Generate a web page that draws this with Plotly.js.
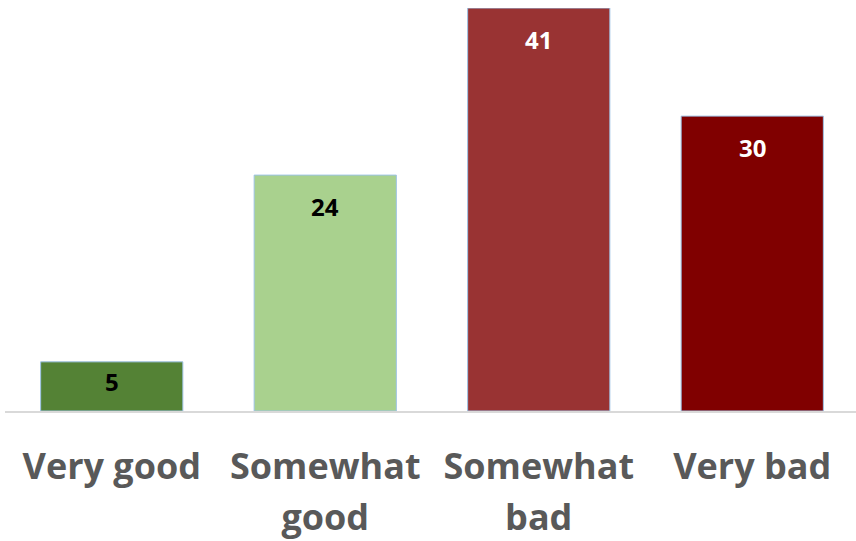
<!DOCTYPE html>
<html>
<head>
<meta charset="utf-8">
<script src="https://cdn.plot.ly/plotly-3.0.1.min.js"></script>
<style>html,body{margin:0;padding:0;background:#fff;overflow:hidden;}#chart{width:859px;height:541px;}</style>
</head>
<body>
<div id="chart"></div>
<script>
// Data
var categories = ["Very good", "Somewhat good", "Somewhat bad", "Very bad"];
var labelLine1 = ["Very good", "Somewhat", "Somewhat", "Very bad"];
var labelLine2 = ["", "good", "bad", ""];
var values = [5, 24, 41, 30];

// Styles
var barColors = ["#548235", "#A9D18E", "#993333", "#800000"];
var textColors = ["#000000", "#000000", "#ffffff", "#ffffff"];
var labelShift = [-20, -31, -31, -31];

var trace = {
  type: "bar",
  x: categories,
  y: values,
  marker: {color: barColors, line: {color: "#9DC3E6", width: 1}},
  hoverinfo: "none",
  xaxis: "x",
  yaxis: "y"
};
var dummy = {
  type: "bar", x: categories, y: values.map(function(){return null;}),
  xaxis: "x2", yaxis: "y", showlegend: false, hoverinfo: "none"
};

var annotations = categories.map(function(c, i){
  return {
    x: c, y: values[i], xref: "x", yref: "y",
    text: "<b>" + values[i] + "</b>",
    showarrow: false, yanchor: "middle", xanchor: "center",
    yshift: labelShift[i],
    font: {family: "Open Sans", size: 24, color: textColors[i]}
  };
});

var tickFont = {family: "Open Sans", size: 36, color: "#595959", weight: "bold"};

var layout = {
  width: 859, height: 541,
  margin: {l: 5, r: 0, t: 8, b: 130},
  paper_bgcolor: "#ffffff", plot_bgcolor: "#ffffff",
  showlegend: false,
  bargap: 0.334,
  xaxis: {
    type: "category", categoryorder: "array", categoryarray: categories,
    tickmode: "array", tickvals: categories, ticktext: labelLine1,
    tickfont: tickFont, showline: true, linecolor: "#d9d9d9", linewidth: 2,
    showgrid: false, zeroline: false, ticks: "", ticklabelstandoff: 23,
    fixedrange: true
  },
  xaxis2: {
    type: "category", overlaying: "x", matches: "x", side: "bottom",
    categoryorder: "array", categoryarray: categories,
    tickmode: "array", tickvals: categories, ticktext: labelLine2,
    tickfont: tickFont, showline: false, showgrid: false, zeroline: false,
    ticks: "", ticklabelstandoff: 82, fixedrange: true
  },
  yaxis: {
    range: [0, 41], visible: false, showgrid: false, zeroline: false, fixedrange: true
  },
  annotations: annotations
};

Plotly.newPlot("chart", [trace, dummy], layout, {displayModeBar: false, staticPlot: true});
</script>
</body>
</html>
